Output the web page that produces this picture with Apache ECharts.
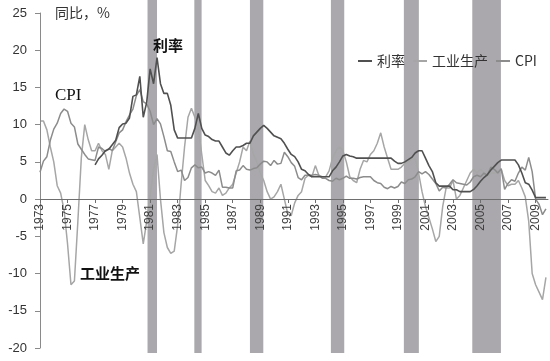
<!DOCTYPE html>
<html><head><meta charset="utf-8">
<script src="https://cdn.jsdelivr.net/npm/echarts@6/dist/echarts.min.js"></script>
<style>html,body{margin:0;padding:0;background:#fff}#c{width:550px;height:361px}</style>
</head><body><div id="c"></div>
<script>
// ---- data (quarterly, year-on-year %) ----
const baseYear = 1973;
const step = 0.25;
const xMaxYear = 2009.9;
const seriesNames = ['利率', '工业生产', 'CPI'];

const rateStart = 1977.0;
const rate = [
  4.6, 5.4, 5.9, 6.5,
  6.7, 7.3, 7.9, 9.6,
  10.1, 10.2, 10.9, 13.8,
  14.0, 16.5, 11.0, 13.0,
  17.5, 15.5, 19.0, 15.5,
  14.2, 14.2, 12.6, 9.3,
  8.2, 8.2, 8.2, 8.2,
  8.2, 9.5, 11.5, 9.5,
  8.6, 8.4, 8.0, 7.8,
  7.8, 7.0, 6.2, 5.9,
  6.5, 7.0, 7.0, 7.2,
  7.5, 7.5, 8.5, 9.0,
  9.5, 9.9, 9.5, 9.0,
  8.5, 8.3, 8.1, 7.5,
  6.7, 6.0, 5.7, 5.0,
  4.0, 3.8, 3.3, 3.0,
  3.0, 3.0, 3.0, 3.0,
  3.0, 3.8, 4.3, 5.0,
  5.8, 6.0, 5.8, 5.7,
  5.5, 5.5, 5.5, 5.5,
  5.5, 5.5, 5.5, 5.5,
  5.5, 5.5, 5.5, 5.1,
  4.8, 4.8, 5.0, 5.3,
  5.6, 6.2, 6.5, 6.5,
  5.5, 4.5, 3.7, 2.2,
  1.75, 1.75, 1.75, 1.75,
  1.25, 1.25, 1.0, 1.0,
  1.0, 1.0, 1.3, 1.8,
  2.4, 2.9, 3.3, 3.9,
  4.4, 4.9, 5.25, 5.25,
  5.25, 5.25, 5.25, 4.6,
  3.5, 2.2, 2.0, 1.2,
  0.2, 0.2, 0.2, 0.2
];

const ipStart = 1973.0;
const ip = [
  10.5, 10.5, 9.3, 7.0,
  5.0, 1.8, 0.8, -1.5,
  -6.0, -11.5, -11.0, -3.0,
  5.5, 10.0, 8.0, 6.5,
  6.5, 7.5, 6.5, 6.0,
  4.0, 6.5, 7.0, 7.5,
  7.0, 5.5, 3.5, 2.0,
  1.0, -2.5, -6.0, -3.0,
  0.5, 4.0, 6.0, 0.0,
  -4.5, -6.5, -7.3, -7.0,
  -3.5, 2.0, 7.0, 11.0,
  12.2, 11.0, 9.5, 6.0,
  2.5, 1.8, 1.0, 0.8,
  1.5, 0.5, 0.8, 1.5,
  2.0, 3.5, 5.0, 7.0,
  6.5, 7.8, 6.0, 5.0,
  3.5, 2.5, 1.0, 0.0,
  0.3, 1.0, 2.0, 0.0,
  -2.0, -2.2, -0.5, 0.5,
  1.0, 2.8, 3.2, 3.0,
  4.5, 3.2, 3.0, 3.0,
  3.8, 5.5, 6.5, 7.0,
  6.5, 5.0, 3.0, 2.5,
  2.2, 4.0, 5.2, 5.0,
  6.0, 6.5, 7.5, 8.9,
  7.0, 5.5, 4.0, 4.0,
  4.0, 4.3, 4.8, 5.0,
  5.4, 5.4, 3.5, 1.0,
  -1.0, -2.5, -4.0, -5.7,
  -5.0, -1.0, 1.5, 1.5,
  2.5, 0.0, 0.5, 1.5,
  2.5, 3.5, 4.0, 3.5,
  4.0, 3.5, 3.0, 3.5,
  3.5, 3.5, 4.0, 2.5,
  1.8, 2.0, 2.0, 2.5,
  1.5, 0.3, -3.0, -10.0,
  -11.5, -12.5, -13.5, -10.5
];

const cpiStart = 1973.0;
const cpi = [
  3.6, 5.1, 5.7, 7.9,
  9.4, 10.2, 11.5, 12.1,
  11.8, 10.2, 9.7, 7.4,
  6.7, 6.0, 5.4, 5.3,
  5.2, 7.0, 6.8, 6.4,
  6.8, 6.5, 7.7, 8.9,
  9.3, 10.4, 11.3, 12.1,
  13.9, 14.7, 13.1, 12.8,
  11.8, 10.0, 10.8, 10.1,
  8.4, 6.5, 6.4, 5.0,
  3.7, 3.9, 2.5, 2.9,
  4.2, 4.6, 4.2, 4.3,
  3.5, 3.7, 3.5, 3.2,
  3.9, 1.6, 1.6, 1.5,
  1.5, 3.8, 3.9, 4.5,
  4.0, 3.9, 4.1, 4.2,
  4.7, 5.1, 5.0, 4.5,
  5.2, 4.7, 4.8, 6.3,
  5.7, 4.9, 4.4, 2.9,
  2.6, 3.2, 3.2, 3.2,
  3.3, 3.2, 2.8, 2.8,
  2.5, 2.4, 2.8, 2.6,
  2.8, 3.1, 2.8, 2.8,
  2.7, 2.9, 3.0, 3.0,
  3.0, 2.5, 2.2, 2.1,
  1.6, 1.4, 1.7, 1.5,
  1.7, 2.3, 2.1, 2.6,
  2.7, 3.0, 3.7, 3.4,
  3.7, 3.3, 2.7, 2.1,
  1.1, 1.6, 1.5, 2.0,
  2.6, 2.2, 2.1, 2.0,
  1.9, 2.3, 3.0, 3.2,
  3.0, 3.5, 3.2, 4.3,
  4.0, 3.5, 4.1, 1.3,
  2.1, 2.6, 2.4, 3.5,
  4.3, 3.9, 5.6, 3.7,
  0.0, -0.7, -2.1, -1.3
];

// shaded periods (decimal years)
const bandStart = [1980.81, 1984.21, 1988.25, 1994.13, 1999.43, 2004.40];
const bandEnd   = [1981.50, 1984.74, 1989.22, 1995.10, 2000.52, 2006.48];

// ---- build ----
function pairs(start, vals) {
  return vals.map((v, i) => [start + i * step - baseYear, v]);
}
const bands = bandStart.map((s, i) => [{ xAxis: s - baseYear }, { xAxis: bandEnd[i] - baseYear }]);
const xMax = xMaxYear - baseYear;

const chart = echarts.init(document.getElementById('c'), null, { renderer: 'canvas' });
const labelFont = 'Liberation Sans, Arial, sans-serif';
const cjk = 'Noto Sans CJK SC, sans-serif';

// y range / grid geometry: -20..25 on 13..348 px, zero line at 199 px
const yMin = -20, yMax = 25;

chart.setOption({
  animation: false,
  backgroundColor: '#fff',
  grid: [
    { left: 40, right: 2, top: 13, bottom: 13, containLabel: false, outerBoundsMode: 'none' },
    { left: 40, right: 2, top: 0, bottom: 8, containLabel: false, outerBoundsMode: 'none' },
    // upper half (0..25) — its bottom edge is the zero line where the year axis sits
    { left: 40, right: 2, top: 13, bottom: 162, containLabel: false, outerBoundsMode: 'none' }
  ],
  legend: {
    data: seriesNames,
    left: 358, top: 54,
    icon: 'rect', itemWidth: 14, itemHeight: 2, itemGap: 8,
    padding: 0,
    textStyle: { fontFamily: cjk, fontSize: 14, color: '#333' }
  },
  xAxis: [
    { type: 'value', gridIndex: 0, min: 0, max: xMax, show: false },
    { type: 'value', gridIndex: 1, min: 0, max: xMax, show: false },
    {
      type: 'value', gridIndex: 2, min: 0, max: xMax, interval: 2, z: 6, position: 'bottom',
      axisLine: { onZero: false, lineStyle: { color: '#6e6e6e', width: 1 } },
      axisTick: { show: true, length: 4, lineStyle: { color: '#6e6e6e' } },
      splitLine: { show: false },
      axisLabel: {
        rotate: 90, margin: 5, fontSize: 12, color: '#404040', fontFamily: labelFont,
        showMaxLabel: false,
        formatter: v => String(v + baseYear)
      }
    }
  ],
  yAxis: [
    {
      type: 'value', gridIndex: 0, min: yMin, max: yMax, interval: 5, z: 6,
      axisLine: { show: true, onZero: false, lineStyle: { color: '#8a8a8a', width: 1 } },
      axisTick: { show: true, length: 5, lineStyle: { color: '#8a8a8a' } },
      splitLine: { show: false },
      axisLabel: { margin: 13, fontSize: 13, color: '#333', fontFamily: labelFont }
    },
    { type: 'value', gridIndex: 1, min: 0, max: 1, show: false },
    { type: 'value', gridIndex: 2, min: 0, max: yMax, show: false }
  ],
  series: [
    {
      type: 'line', xAxisIndex: 1, yAxisIndex: 1, data: [], silent: true, z: 0,
      markArea: { silent: true, itemStyle: { color: '#aaa8ac', opacity: 1 }, data: bands }
    },
    {
      name: '工业生产', type: 'line', data: pairs(ipStart, ip), showSymbol: false, z: 3,
      lineStyle: { color: '#a6a6a6', width: 1.5 }, itemStyle: { color: '#a6a6a6' }
    },
    {
      name: 'CPI', type: 'line', data: pairs(cpiStart, cpi), showSymbol: false, z: 4,
      lineStyle: { color: '#8c8c8c', width: 1.5 }, itemStyle: { color: '#8c8c8c' }
    },
    {
      name: '利率', type: 'line', data: pairs(rateStart, rate), showSymbol: false, z: 5,
      lineStyle: { color: '#505050', width: 1.6 }, itemStyle: { color: '#505050' }
    }
  ],
  graphic: [
    { type: 'text', left: 55, top: 6, z: 10, style: { text: '同比，%', font: '14px ' + cjk, fill: '#333' } },
    { type: 'text', left: 153, top: 38, z: 10, style: { text: '利率', font: 'bold 15px ' + cjk, fill: '#111' } },
    { type: 'text', left: 55, top: 87, z: 10, style: { text: 'CPI', font: '17px Liberation Serif, serif', fill: '#111' } },
    { type: 'text', left: 80, top: 266, z: 10, style: { text: '工业生产', font: 'bold 15px ' + cjk, fill: '#111' } }
  ]
});
</script></body></html>
